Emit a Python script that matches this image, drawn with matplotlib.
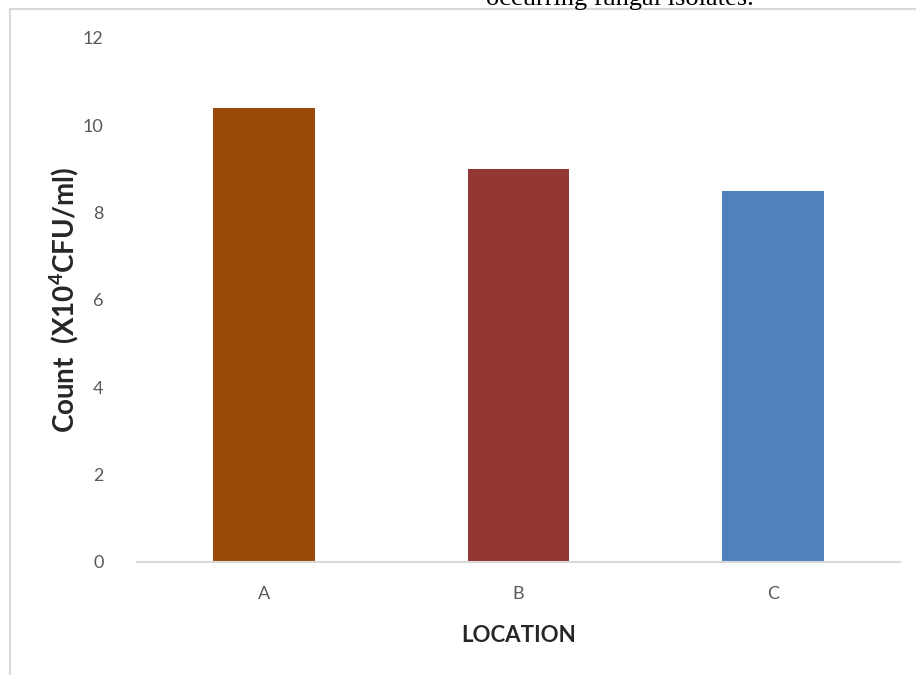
import matplotlib.pyplot as plt
from matplotlib.lines import Line2D

locations = ['A', 'B', 'C']
counts = [10.4, 9.0, 8.5]
bar_colors = ['#9A4A07', '#943634', '#4F81BD']
y_ticks = [0, 2, 4, 6, 8, 10, 12]

plt.rcParams['font.family'] = ['Lato', 'DejaVu Sans']
plt.rcParams['mathtext.fontset'] = 'custom'
plt.rcParams['mathtext.rm'] = 'Lato'
plt.rcParams['mathtext.bf'] = 'Lato:bold'

fig = plt.figure(figsize=(9.16, 6.75), dpi=100)
ax = fig.add_axes([137 / 916, 1 - 562 / 675, (900 - 137) / 916, (562 - 38) / 675])

ax.bar(range(len(locations)), counts, width=0.4, color=bar_colors, zorder=2)

ax.set_xlim(-0.5, len(locations) - 0.5)
ax.set_ylim(0, 12)
ax.set_yticks(y_ticks)
ax.set_xticks(range(len(locations)), labels=locations)
ax.tick_params(axis='both', length=0, labelsize=13, labelcolor='#595959')
ax.tick_params(axis='y', pad=24)
ax.tick_params(axis='x', pad=17)

for side in ['top', 'right', 'left']:
    ax.spines[side].set_visible(False)
ax.spines['bottom'].set_color('#D9D9D9')
ax.spines['bottom'].set_linewidth(1.5)

ax.set_xlabel('LOCATION', fontsize=16, fontweight='bold', color='#262626', labelpad=17)
ax.set_ylabel('Count  (X10$\\mathbf{^{4}}$CFU/ml)', fontsize=20, fontweight='bold',
              color='#262626')
ax.yaxis.set_label_coords(-0.073, 0.5)

# chart frame, cut at the right and bottom edges
fig.add_artist(Line2D([10 / 916, 10 / 916], [0, 1 - 9 / 675], color='#D9D9D9', lw=1.5))
fig.add_artist(Line2D([10 / 916, 1], [1 - 9 / 675, 1 - 9 / 675], color='#D9D9D9', lw=1.5))

# caption text from the page above, clipped by the top edge
fig.text(620 / 916, 1 - 5 / 675, 'occurring fungal isolates.', family='Liberation Serif',
         fontsize=19, ha='center', va='baseline', color='black')

fig.savefig('out.png', dpi=100)
